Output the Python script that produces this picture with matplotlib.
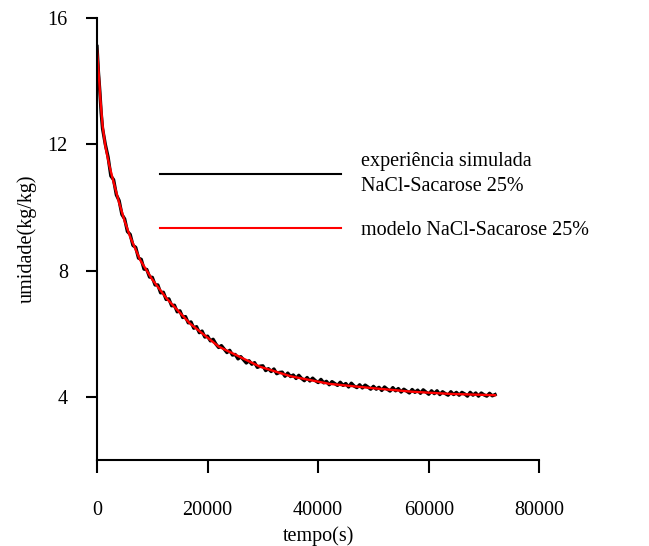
import numpy as np
import matplotlib.pyplot as plt

plt.rcParams['font.family'] = ['Liberation Serif', 'DejaVu Serif']

# simulated experiment (noisy drying curve)
exp_t = [0, 250, 500, 750, 1000, 1500, 2000, 2500,
         3000, 3500, 4000, 4500, 5000, 5500, 6000, 6500, 7000, 7500, 8000, 8500,
         9000, 9500, 10000, 10500, 11000, 11500, 12000, 12500, 13000, 13500, 14000,
         14500, 15000, 15500, 16000, 16500, 17000, 17500, 18000, 18500, 19000, 19500,
         20000, 20500, 21000, 21500, 22000, 22500, 23000, 23500, 24000, 24500, 25000,
         25500, 26000, 26500, 27000, 27500, 28000, 28500, 29000, 29500, 30000, 30500,
         31000, 31500, 32000, 32500, 33000, 33500, 34000, 34500, 35000, 35500, 36000,
         36500, 37000, 37500, 38000, 38500, 39000, 39500, 40000, 40500, 41000, 41500,
         42000, 42500, 43000, 43500, 44000, 44500, 45000, 45500, 46000, 46500, 47000,
         47500, 48000, 48500, 49000, 49500, 50000, 50500, 51000, 51500, 52000, 52500,
         53000, 53500, 54000, 54500, 55000, 55500, 56000, 56500, 57000, 57500, 58000,
         58500, 59000, 59500, 60000, 60500, 61000, 61500, 62000, 62500, 63000, 63500,
         64000, 64500, 65000, 65500, 66000, 66500, 67000, 67500, 68000, 68500, 69000,
         69500, 70000, 70500, 71000, 71500, 72000]
exp_y = [15.1, 14.3, 13.7, 13.0, 12.5, 12.0, 11.6, 11.0,
         10.88, 10.40, 10.22, 9.78, 9.64, 9.24, 9.15, 8.80, 8.74, 8.40, 8.36, 8.05,
         8.04, 7.80, 7.79, 7.55, 7.55, 7.30, 7.32, 7.09, 7.11, 6.89, 6.91,
         6.70, 6.73, 6.52, 6.55, 6.35, 6.38, 6.18, 6.23, 6.04, 6.09, 5.90,
         5.93, 5.78, 5.83, 5.68, 5.57, 5.63, 5.52, 5.41, 5.48, 5.33, 5.35,
         5.21, 5.28, 5.18, 5.08, 5.15, 5.04, 5.09, 4.94, 4.98, 4.99, 4.84,
         4.90, 4.81, 4.89, 4.74, 4.78, 4.79, 4.66, 4.76, 4.65, 4.70, 4.59,
         4.69, 4.59, 4.52, 4.62, 4.51, 4.60, 4.52, 4.46, 4.56, 4.45, 4.50,
         4.39, 4.49, 4.43, 4.37, 4.47, 4.37, 4.43, 4.32, 4.44, 4.35, 4.30,
         4.39, 4.29, 4.38, 4.32, 4.25, 4.34, 4.25, 4.31, 4.21, 4.32, 4.25,
         4.19, 4.30, 4.20, 4.27, 4.16, 4.25, 4.19, 4.13, 4.24, 4.15, 4.22,
         4.12, 4.23, 4.16, 4.09, 4.20, 4.11, 4.20, 4.08, 4.17, 4.11, 4.06,
         4.17, 4.08, 4.15, 4.06, 4.15, 4.10, 4.03, 4.15, 4.06, 4.13, 4.03,
         4.13, 4.07, 4.03, 4.12, 4.04, 4.08]

# model curve
mod_t = [0, 250, 600, 1000, 1500, 2200, 3000, 4000, 5000, 6000, 7800, 10000, 12600,
         16800, 22000, 29500, 35000, 42000, 50000, 57000, 64000, 72000]
mod_y = [15.0, 14.4, 13.45, 12.6, 11.95, 11.35, 10.8, 10.15, 9.57, 9.07, 8.34, 7.72,
         7.12, 6.33, 5.6, 4.96, 4.66, 4.42, 4.28, 4.17, 4.1, 4.06]

fig = plt.figure(figsize=(6.49, 5.46), dpi=100)
ax = fig.add_axes([0.1495, 0.157, 0.6815, 0.810])

ax.plot(exp_t, exp_y, color='black', lw=2.4, label='experiência simulada\nNaCl-Sacarose 25%')
ax.plot(mod_t, mod_y, color='#ff0000', lw=1.7, label='modelo NaCl-Sacarose 25%')

ax.set_xlim(0, 80000)
ax.set_ylim(2, 16)
ax.set_xticks([0, 20000, 40000, 60000, 80000])
ax.set_yticks([4, 8, 12, 16])

for s in ['top', 'right']:
    ax.spines[s].set_visible(False)
for s in ['left', 'bottom']:
    ax.spines[s].set_linewidth(1.5)

ax.tick_params(axis='x', direction='out', length=9, width=1.5, pad=20, labelsize=14.5)
ax.tick_params(axis='y', direction='out', length=8, width=1.5, pad=13, labelsize=14.5)

ax.set_xlabel('tempo(s)', fontsize=14.5, labelpad=5)
ax.set_ylabel('umidade(kg/kg)', fontsize=14.5, labelpad=8)

leg = ax.legend(loc='upper left', bbox_to_anchor=(0.1424, 0.697), frameon=False,
                borderpad=0, borderaxespad=0, handlelength=9.0, handletextpad=1.0,
                labelspacing=1.2, fontsize=14.5)
for h in leg.legend_handles:
    h.set_linewidth(1.5)
leg.get_texts()[0].set_linespacing(1.45)

fig.savefig('out.png', dpi=100)
